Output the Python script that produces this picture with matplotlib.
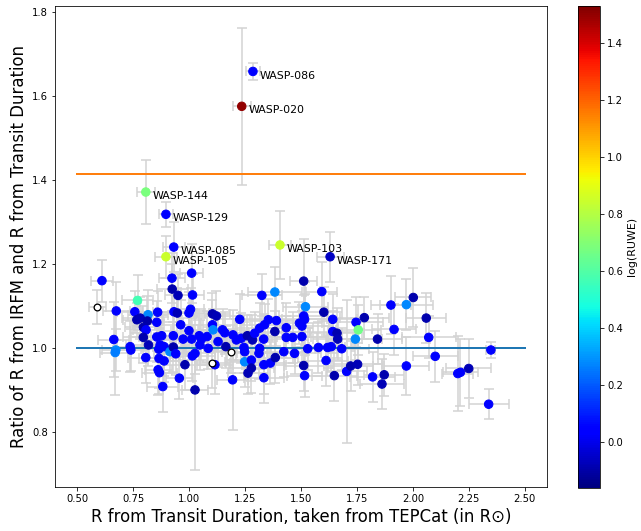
import numpy as np
import matplotlib
matplotlib.use("Agg")
import matplotlib.pyplot as plt

# labelled outliers
names = ["WASP-086", "WASP-020", "WASP-144", "WASP-129",
         "WASP-085", "WASP-105", "WASP-103", "WASP-171"]
lab_x = [1.285, 1.235, 0.806, 0.896, 0.931, 0.896, 1.406, 1.630]
lab_y = [1.658, 1.575, 1.371, 1.318, 1.240, 1.217, 1.245, 1.217]
lab_c = [0.04, 1.50, 0.68, 0.04, 0.04, 0.85, 0.85, -0.06]
lab_xerr = [0.03, 0.04, 0.04, 0.03, 0.05, 0.05, 0.05, 0.06]
lab_yerr = [0.02, 0.187, 0.077, 0.03, 0.06, 0.05, 0.08, 0.06]

# rest of the sample: R from transit duration, ratio, log(RUWE)
r_dur = [0.610, 0.769, 0.674, 0.757, 0.816, 0.859, 0.766, 0.781, 0.813, 0.855,
         0.795, 0.807, 0.923, 1.011, 0.924, 0.950, 1.015, 0.932, 0.947, 0.999,
         1.006, 0.962, 0.999, 0.663, 0.736, 0.739, 0.672, 0.669, 0.795, 0.818,
         0.855, 0.877, 0.929, 0.973, 0.870, 0.864, 0.888, 0.914, 0.929, 0.940,
         0.806, 0.865, 0.888, 0.861, 0.867, 0.981, 0.956, 0.882, 1.026, 1.014,
         1.026, 1.045, 1.055, 1.080, 1.085, 1.048, 1.104, 1.107, 1.104, 1.122,
         1.149, 1.129, 1.164, 1.115, 1.194, 1.226, 1.159, 1.196, 1.211, 1.245,
         1.248, 1.248, 1.278, 1.278, 1.263, 1.233, 1.260, 1.283, 1.293, 1.315,
         1.315, 1.312, 1.325, 1.383, 1.354, 1.390, 1.337, 1.333, 1.383, 1.334,
         1.363, 1.385, 1.334, 1.434, 1.434, 1.423, 1.471, 1.463, 1.493, 1.011,
         1.512, 1.593, 1.520, 1.602, 1.512, 1.516, 1.504, 1.504, 1.530, 1.578,
         1.619, 1.635, 1.682, 1.642, 1.642, 1.661, 1.664, 1.612, 1.512, 1.516,
         1.649, 1.704, 1.722, 1.753, 1.746, 1.783, 1.756, 1.743, 1.842, 1.820,
         1.872, 1.862, 1.902, 1.971, 2.002, 1.916, 1.971, 2.060, 2.071, 2.100,
         2.201, 2.213, 2.250, 2.349, 2.339]
ratio = [1.160, 1.113, 1.088, 1.086, 1.079, 1.085, 1.067, 1.071, 1.064, 1.061,
         1.049, 1.043, 1.166, 1.178, 1.140, 1.125, 1.126, 1.086, 1.083, 1.083,
         1.092, 1.055, 1.041, 1.020, 1.003, 0.995, 0.995, 0.989, 1.025, 1.007,
         1.026, 1.029, 1.029, 1.021, 1.007, 0.997, 1.003, 0.991, 1.002, 0.986,
         0.977, 0.975, 0.969, 0.948, 0.941, 0.960, 0.928, 0.908, 0.900, 0.981,
         0.987, 1.029, 1.021, 1.027, 0.999, 1.007, 1.055, 1.043, 1.081, 1.076,
         1.043, 1.015, 1.003, 0.960, 0.924, 1.068, 1.036, 1.031, 1.019, 1.001,
         0.991, 0.967, 0.971, 0.952, 0.940, 1.023, 1.029, 1.019, 1.035, 1.047,
         0.999, 0.987, 1.125, 1.133, 1.067, 1.065, 1.055, 1.021, 1.039, 0.960,
         0.964, 0.977, 0.929, 1.048, 1.025, 0.991, 0.987, 1.025, 1.059, 1.021,
         1.159, 1.134, 1.098, 1.085, 1.076, 1.068, 1.052, 1.027, 0.998, 1.001,
         1.001, 1.003, 0.998, 1.068, 1.039, 1.035, 1.021, 0.970, 0.958, 0.934,
         0.934, 0.944, 0.957, 0.961, 1.061, 1.072, 1.043, 1.021, 1.021, 0.931,
         0.936, 0.914, 1.102, 1.103, 1.120, 1.044, 0.957, 1.071, 1.025, 0.980,
         0.939, 0.942, 0.951, 0.995, 0.866]
log_ruwe = [0.04, 0.57, 0.03, 0.03, 0.28, 0.04, -0.09, -0.08, -0.10, 0.03,
            -0.09, 0.04, 0.03, 0.04, -0.09, -0.08, 0.03, 0.03, -0.08, 0.04,
            0.03, 0.03, 0.04, 0.03, 0.04, 0.03, 0.28, 0.26, -0.09, -0.08,
            0.03, 0.04, 0.03, 0.04, 0.03, 0.04, 0.03, 0.28, -0.09, 0.03,
            0.04, 0.03, 0.04, 0.03, 0.04, -0.09, 0.03, 0.04, -0.09, 0.03,
            0.04, 0.03, 0.04, 0.03, 0.04, 0.03, 0.04, 0.28, -0.09, -0.08,
            0.03, 0.04, -0.09, 0.03, 0.04, 0.03, 0.04, 0.03, 0.04, 0.03,
            0.04, 0.28, 0.03, -0.09, -0.08, 0.03, -0.09, -0.08, 0.04, 0.03,
            0.04, 0.03, 0.04, 0.28, 0.03, 0.04, 0.03, 0.04, -0.09, 0.03,
            0.04, -0.09, 0.03, 0.04, 0.03, 0.04, 0.03, 0.04, 0.03, 0.03,
            -0.09, 0.04, 0.28, -0.09, 0.03, 0.04, 0.03, 0.04, 0.03, 0.04,
            0.03, 0.04, 0.03, 0.04, 0.03, -0.09, -0.08, 0.03, -0.09, 0.04,
            -0.09, 0.03, -0.09, -0.08, 0.04, -0.09, 0.66, 0.28, -0.09, 0.03,
            -0.09, -0.08, 0.04, 0.28, -0.09, 0.03, 0.04, -0.09, 0.03, 0.04,
            0.03, 0.04, -0.08, 0.04, 0.03]
r_dur_err = [0.05, 0.07, 0.06, 0.08, 0.09, 0.07, 0.06, 0.08, 0.07, 0.10,
             0.08, 0.06, 0.06, 0.05, 0.07, 0.06, 0.05, 0.08, 0.09, 0.07,
             0.06, 0.10, 0.08, 0.07, 0.06, 0.08, 0.06, 0.07, 0.09, 0.10,
             0.08, 0.07, 0.10, 0.09, 0.06, 0.08, 0.10, 0.07, 0.09, 0.07,
             0.08, 0.09, 0.07, 0.06, 0.08, 0.10, 0.06, 0.07, 0.06, 0.10,
             0.09, 0.08, 0.10, 0.09, 0.11, 0.08, 0.10, 0.09, 0.08, 0.10,
             0.11, 0.09, 0.10, 0.08, 0.07, 0.10, 0.11, 0.09, 0.10, 0.12,
             0.10, 0.09, 0.11, 0.10, 0.09, 0.10, 0.11, 0.10, 0.12, 0.10,
             0.11, 0.10, 0.09, 0.12, 0.11, 0.12, 0.10, 0.11, 0.12, 0.10,
             0.11, 0.10, 0.09, 0.12, 0.11, 0.10, 0.12, 0.11, 0.10, 0.09,
             0.06, 0.07, 0.10, 0.08, 0.11, 0.10, 0.12, 0.11, 0.10, 0.12,
             0.11, 0.10, 0.12, 0.11, 0.10, 0.12, 0.11, 0.10, 0.09, 0.08,
             0.10, 0.09, 0.10, 0.11, 0.12, 0.11, 0.10, 0.12, 0.11, 0.10,
             0.09, 0.10, 0.09, 0.12, 0.08, 0.10, 0.10, 0.09, 0.12, 0.10,
             0.07, 0.08, 0.10, 0.02, 0.09]
ratio_err = [0.05, 0.06, 0.07, 0.05, 0.06, 0.05, 0.04, 0.05, 0.06, 0.05,
             0.05, 0.04, 0.06, 0.07, 0.06, 0.05, 0.05, 0.05, 0.06, 0.05,
             0.05, 0.06, 0.05, 0.09, 0.06, 0.05, 0.05, 0.10, 0.06, 0.05,
             0.06, 0.05, 0.06, 0.05, 0.06, 0.05, 0.07, 0.05, 0.06, 0.05,
             0.06, 0.07, 0.05, 0.06, 0.05, 0.06, 0.05, 0.06, 0.19, 0.06,
             0.05, 0.06, 0.05, 0.06, 0.05, 0.06, 0.06, 0.05, 0.05, 0.06,
             0.05, 0.06, 0.05, 0.07, 0.12, 0.06, 0.05, 0.06, 0.05, 0.06,
             0.05, 0.06, 0.05, 0.06, 0.05, 0.06, 0.05, 0.06, 0.05, 0.06,
             0.05, 0.06, 0.05, 0.06, 0.05, 0.06, 0.05, 0.06, 0.05, 0.07,
             0.05, 0.06, 0.06, 0.06, 0.05, 0.06, 0.05, 0.06, 0.05, 0.05,
             0.10, 0.07, 0.06, 0.06, 0.05, 0.06, 0.05, 0.06, 0.05, 0.06,
             0.05, 0.06, 0.05, 0.06, 0.05, 0.06, 0.05, 0.06, 0.06, 0.05,
             0.06, 0.17, 0.06, 0.05, 0.06, 0.05, 0.06, 0.05, 0.06, 0.06,
             0.05, 0.06, 0.07, 0.06, 0.07, 0.06, 0.07, 0.06, 0.05, 0.06,
             0.09, 0.08, 0.07, 0.02, 0.036]

# stars without a RUWE value (open circles)
nan_x = [0.590, 1.104, 1.185]
nan_y = [1.097, 0.964, 0.990]
nan_xerr = [0.04, 0.08, 0.10]
nan_yerr = [0.04, 0.06, 0.05]

all_x = r_dur + lab_x + nan_x
all_y = ratio + lab_y + nan_y
all_xerr = r_dur_err + lab_xerr + nan_xerr
all_yerr = ratio_err + lab_yerr + nan_yerr

fig = plt.figure(figsize=(641 / 72, 531 / 72), dpi=72)
ax = fig.add_axes([0.0858, 0.0829, 0.7676, 0.906])
cax = fig.add_axes([0.902, 0.081, 0.0343, 0.908])

ax.errorbar(all_x, all_y, xerr=all_xerr, yerr=all_yerr, fmt="none",
            ecolor="lightgray", elinewidth=1.5, capsize=5, capthick=1.5, zorder=1)
ax.plot([0.5, 2.5], [np.sqrt(2), np.sqrt(2)], color="C1", lw=2, zorder=2)
ax.plot([0.5, 2.5], [1.0, 1.0], color="C0", lw=2, zorder=2)

sc = ax.scatter(r_dur + lab_x, ratio + lab_y, c=log_ruwe + lab_c, cmap="jet",
                vmin=-0.16, vmax=1.53, s=72, zorder=3)
ax.scatter(nan_x, nan_y, facecolor="white", edgecolor="black", s=45,
           linewidths=1.3, zorder=3)

for name, x, y in zip(names, lab_x, lab_y):
    ax.text(x + 0.03, y - 0.017, name, fontsize=11)

ax.set_xlim(0.4, 2.6)
ax.set_ylim(0.669, 1.814)
ax.set_xlabel("R from Transit Duration, taken from TEPCat (in R\u2299)", fontsize=16.5)
ax.set_ylabel("Ratio of R from IRFM and R from Transit Duration", fontsize=16.5)

cb = fig.colorbar(sc, cax=cax)
cb.set_label("log(RUWE)", fontsize=11)

fig.savefig("out.png", dpi=72)
